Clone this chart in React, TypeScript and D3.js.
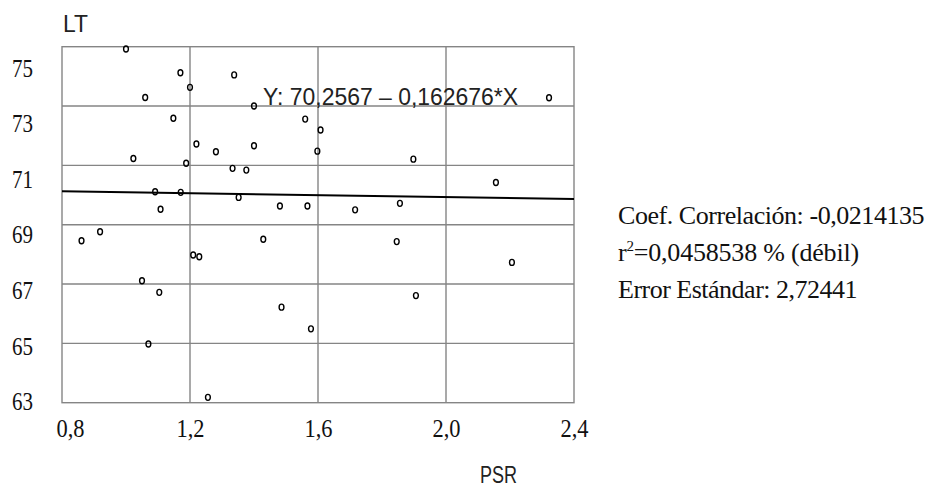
import React from 'react';
import * as d3 from 'd3';

const psrValues = [
  1.0, 1.17, 1.338, 1.2, 1.06, 1.4, 1.148, 1.56, 1.22, 1.281, 1.4, 1.023, 1.188, 1.333,
  1.376, 1.091, 1.171, 1.352, 1.108, 1.481, 1.567, 1.608, 1.598, 1.898, 2.156, 2.322,
  1.716, 1.856, 0.919, 0.861, 1.21, 1.229, 1.429, 1.05, 1.104, 1.486, 1.578, 1.07,
  1.256, 1.846, 2.206, 1.906,
];
const ltValues = [
  74.92, 74.12, 74.05, 73.63, 73.29, 73.0, 72.59, 72.56, 71.72, 71.46, 71.66, 71.23, 71.07,
  70.9, 70.84, 70.11, 70.09, 69.92, 69.52, 69.63, 69.63, 72.19, 71.48, 71.21, 70.42, 73.28,
  69.5, 69.72, 68.76, 68.46, 67.98, 67.92, 68.51, 67.11, 66.72, 66.22, 65.49, 64.98,
  63.18, 68.43, 67.73, 66.61,
];

const xTicks = [0.8, 1.2, 1.6, 2.0, 2.4];
const xTickLabels = ['0,8', '1,2', '1,6', '2,0', '2,4'];
const yTicks = [63, 65, 67, 69, 71, 73, 75];
const yTickLabels = ['63', '65', '67', '69', '71', '73', '75'];

const intercept = 70.2567;
const slope = -0.162676;
const equationLabel = 'Y: 70,2567 – 0,162676*X';
const xTitle = 'PSR';
const yTitle = 'LT';
const statLine1 = 'Coef. Correlación: -0,0214135';
const statLine2a = 'r';
const statLine2sup = '2';
const statLine2b = '=0,0458538 % (débil)';
const statLine3 = 'Error Estándar: 2,72441';

export default function App() {
  const x = d3.scaleLinear().domain([0.8, 2.4]).range([62, 574]);
  const y = d3.scaleLinear().domain([63, 75]).range([402.7, 46.7]);
  const yLab = d3.scaleLinear().domain([63, 75]).range([401.7, 68]);
  const xDomain = x.domain();
  const reg = d3
    .line<number>()
    .x((d) => x(d))
    .y((d) => y(intercept + slope * d));

  const grid = '#858585';
  const serif = "'Liberation Serif', 'Times New Roman', serif";
  const sans = "'Liberation Sans', Arial, sans-serif";

  return (
    <svg
      width={930}
      height={493}
      style={{ position: 'absolute', left: 0, top: 0, background: '#fff' }}
    >
      <rect x={0} y={0} width={930} height={493} fill="#fff" />
      {xTicks.slice(1, -1).map((t) => (
        <line key={'gx' + t} x1={x(t)} x2={x(t)} y1={y(75)} y2={y(63)} stroke={grid} strokeWidth={1.4} />
      ))}
      {yTicks.slice(1, -1).map((t) => (
        <line key={'gy' + t} x1={x(0.8)} x2={x(2.4)} y1={y(t)} y2={y(t)} stroke={grid} strokeWidth={1.4} />
      ))}
      <rect
        x={x(0.8)}
        y={y(75)}
        width={x(2.4) - x(0.8)}
        height={y(63) - y(75)}
        fill="none"
        stroke={grid}
        strokeWidth={1.4}
      />
      <path d={reg(xDomain) || ''} fill="none" stroke="#000" strokeWidth={2} />
      {psrValues.map((p, i) => (
        <ellipse
          key={i}
          cx={x(p)}
          cy={y(ltValues[i])}
          rx={2.4}
          ry={3}
          fill="none"
          stroke="#000"
          strokeWidth={1.4}
        />
      ))}
      <text x={263} y={y(73) - 1} fontFamily={sans} fontSize={23} textLength={255} lengthAdjust="spacingAndGlyphs" fill="#222">
        {equationLabel}
      </text>
      {yTicks.map((t, i) => (
        <text key={'yl' + t} x={12} y={yLab(t)} dy="0.34em" fontFamily={serif} fontSize={25} textLength={21} lengthAdjust="spacingAndGlyphs" fill="#111">
          {yTickLabels[i]}
        </text>
      ))}
      {xTicks.map((t, i) => (
        <text key={'xl' + t} x={x(t) - 13.5 + (i === 0 ? 8 : 0)} y={437} fontFamily={serif} fontSize={25} textLength={28} lengthAdjust="spacingAndGlyphs" fill="#111">
          {xTickLabels[i]}
        </text>
      ))}
      <text x={63} y={32} fontFamily={sans} fontSize={23} textLength={25} lengthAdjust="spacingAndGlyphs" fill="#222">
        {yTitle}
      </text>
      <text x={480} y={483} fontFamily={sans} fontSize={23} textLength={37} lengthAdjust="spacingAndGlyphs" fill="#222">
        {xTitle}
      </text>
      <text x={618} y={224} fontFamily={serif} fontSize={26} letterSpacing={-0.45} fill="#111">
        {statLine1}
      </text>
      <text x={618} y={261} fontFamily={serif} fontSize={26} letterSpacing={-0.2} fill="#111">
        <tspan>{statLine2a}</tspan>
        <tspan dy={-10} fontSize={15}>{statLine2sup}</tspan>
        <tspan dy={10}>{statLine2b}</tspan>
      </text>
      <text x={618} y={298} fontFamily={serif} fontSize={26} letterSpacing={-0.5} fill="#111">
        {statLine3}
      </text>
    </svg>
  );
}
